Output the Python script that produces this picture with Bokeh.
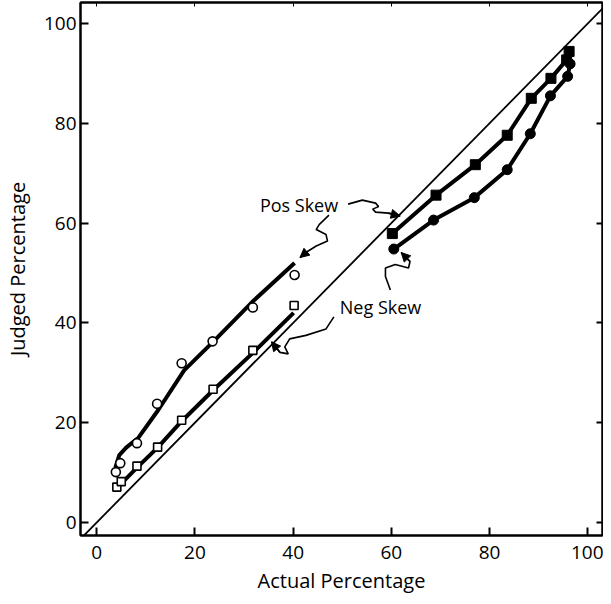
from bokeh.plotting import figure
from bokeh.models import (LinearAxis, FixedTicker, Arrow, NormalHead, Label, Range1d,
                          CustomJSTickFormatter)
from bokeh.embed import file_html
from bokeh.resources import INLINE

# ---- data ----
# open circles (Pos Skew, low range)
pos_lo_x = [3.9, 4.8, 8.2, 12.3, 17.3, 23.6, 31.8, 40.3]
pos_lo_y = [10.1, 11.9, 15.9, 23.8, 31.9, 36.3, 43.1, 49.6]
# fitted curve through the open circles
pos_lo_fit_x = [3.8, 4.6, 6.0, 8.5, 12.5, 17.8, 24.0, 32.0, 40.3]
pos_lo_fit_y = [11.0, 13.5, 15.0, 17.0, 22.5, 30.5, 36.5, 44.5, 52.0]

# open squares (Neg Skew, low range)
neg_lo_x = [4.1, 5.0, 8.2, 12.4, 17.3, 23.7, 31.8, 40.2]
neg_lo_y = [7.1, 8.2, 11.3, 15.1, 20.5, 26.7, 34.5, 43.5]
neg_lo_fit_x = [4.7, 8.2, 12.4, 17.3, 23.7, 31.8, 40.1]
neg_lo_fit_y = [7.5, 11.0, 15.0, 20.3, 26.5, 34.0, 42.0]

# filled squares (Pos Skew, high range)
pos_hi_x = [60.2, 69.1, 77.1, 83.6, 88.5, 92.5, 95.7, 96.2]
pos_hi_y = [57.9, 65.6, 71.7, 77.6, 85.0, 89.0, 92.7, 94.4]

# filled circles (Neg Skew, high range)
neg_hi_x = [60.5, 68.6, 76.9, 83.6, 88.3, 92.4, 95.9, 96.4]
neg_hi_y = [54.8, 60.6, 65.1, 70.7, 77.9, 85.5, 89.4, 91.9]

# identity line
diag = [-10, 110]

x_ticks = [0, 20, 40, 60, 80, 100]
y_ticks = [0, 20, 40, 60, 80, 100]

# hand-drawn pointer squiggles (annotation paths)
pos_arrow_r_x = [51.2, 54.1, 56.8, 57.4, 56.2, 56.8, 59.4, 61.8]
pos_arrow_r_y = [63.8, 64.6, 64.0, 63.3, 62.8, 62.2, 62.0, 61.4]
pos_arrow_l_x = [47.3, 45.3, 44.7, 46.7, 47.0, 44.7, 42.6, 41.4]
pos_arrow_l_y = [61.6, 59.7, 58.7, 57.7, 56.4, 55.4, 54.1, 53.1]
neg_arrow_r_x = [59.8, 58.8, 58.8, 60.8, 63.5, 63.8, 62.0]
neg_arrow_r_y = [46.6, 49.3, 51.0, 51.7, 51.0, 52.3, 54.1]
neg_arrow_l_x = [48.3, 46.7, 42.6, 39.3, 38.3, 39.0, 37.3, 35.6]
neg_arrow_l_y = [41.2, 38.8, 37.5, 36.8, 35.2, 33.8, 34.1, 36.2]

FONT = "Open Sans"

p = figure(width=603, height=596,
           x_range=Range1d(-3.3, 103.0), y_range=Range1d(-2.6, 104.2),
           output_backend="svg", toolbar_location=None,
           min_border_left=74, min_border_right=1,
           min_border_top=2, min_border_bottom=59)
p.grid.visible = False
p.outline_line_color = "black"
p.outline_line_width = 2
p.background_fill_color = "white"
p.border_fill_color = "white"

for ax, ticks in ((p.xaxis[0], x_ticks), (p.yaxis[0], y_ticks)):
    ax.ticker = FixedTicker(ticks=ticks)
    ax.minor_tick_line_color = None
    ax.major_tick_in = 8
    ax.major_tick_out = 0
    ax.major_tick_line_width = 2
    ax.axis_line_width = 2
    ax.major_label_text_font = FONT
    ax.major_label_text_font_size = "19px"
    ax.major_label_text_color = "black"
    ax.axis_label_text_font = FONT
    ax.axis_label_text_font_size = "20px"
    ax.axis_label_text_font_style = "normal"
    ax.axis_label_text_color = "black"

p.xaxis.axis_label = "Actual Percentage"
p.yaxis.axis_label = "Judged Percentage"
p.xaxis.major_label_standoff = 10
p.xaxis.axis_label_standoff = 5
p.yaxis.major_label_standoff = 4
p.yaxis.axis_label_standoff = 10

blank = CustomJSTickFormatter(code="return ''")
right = LinearAxis(ticker=FixedTicker(ticks=y_ticks), formatter=blank,
                   major_tick_in=6, major_tick_out=0, minor_tick_line_color=None,
                   axis_line_width=2, major_tick_line_width=2, major_label_standoff=0)
top = LinearAxis(ticker=FixedTicker(ticks=x_ticks), formatter=blank,
                 major_tick_in=4, major_tick_out=0, minor_tick_line_color=None,
                 axis_line_width=2, major_tick_line_width=1, major_label_standoff=0)
p.add_layout(right, "right")
p.add_layout(top, "above")

# identity line
p.line(diag, diag, line_color="black", line_width=1.8)

# fitted lines
p.line(pos_lo_fit_x, pos_lo_fit_y, line_color="black", line_width=4)
p.line(neg_lo_fit_x, neg_lo_fit_y, line_color="black", line_width=4)
p.line(pos_hi_x, pos_hi_y, line_color="black", line_width=4)
p.line(neg_hi_x, neg_hi_y, line_color="black", line_width=4)

# markers
p.scatter(pos_lo_x, pos_lo_y, marker="circle", size=9, fill_color="white",
          line_color="black", line_width=1.6)
p.scatter(neg_lo_x, neg_lo_y, marker="square", size=8, fill_color="white",
          line_color="black", line_width=1.6)
p.scatter(pos_hi_x, pos_hi_y, marker="square", size=10, fill_color="black",
          line_color="black")
p.scatter(neg_hi_x, neg_hi_y, marker="circle", size=10, fill_color="black",
          line_color="black")

# labels and pointers
p.add_layout(Label(x=41.2, y=63.7, text="Pos Skew", text_align="center",
                   text_baseline="middle", text_font=FONT, text_font_size="18px",
                   text_color="black"))
p.add_layout(Label(x=57.8, y=43.2, text="Neg Skew", text_align="center",
                   text_baseline="middle", text_font=FONT, text_font_size="18px",
                   text_color="black"))

for xs, ys in ((pos_arrow_r_x, pos_arrow_r_y), (pos_arrow_l_x, pos_arrow_l_y),
               (neg_arrow_r_x, neg_arrow_r_y), (neg_arrow_l_x, neg_arrow_l_y)):
    p.line(xs, ys, line_color="black", line_width=1.6)
    p.add_layout(Arrow(end=NormalHead(size=9, fill_color="black", line_color="black"),
                       x_start=xs[-2], y_start=ys[-2], x_end=xs[-1], y_end=ys[-1],
                       line_color="black", line_width=1.6))

open("out.html", "w").write(file_html(p, INLINE))
